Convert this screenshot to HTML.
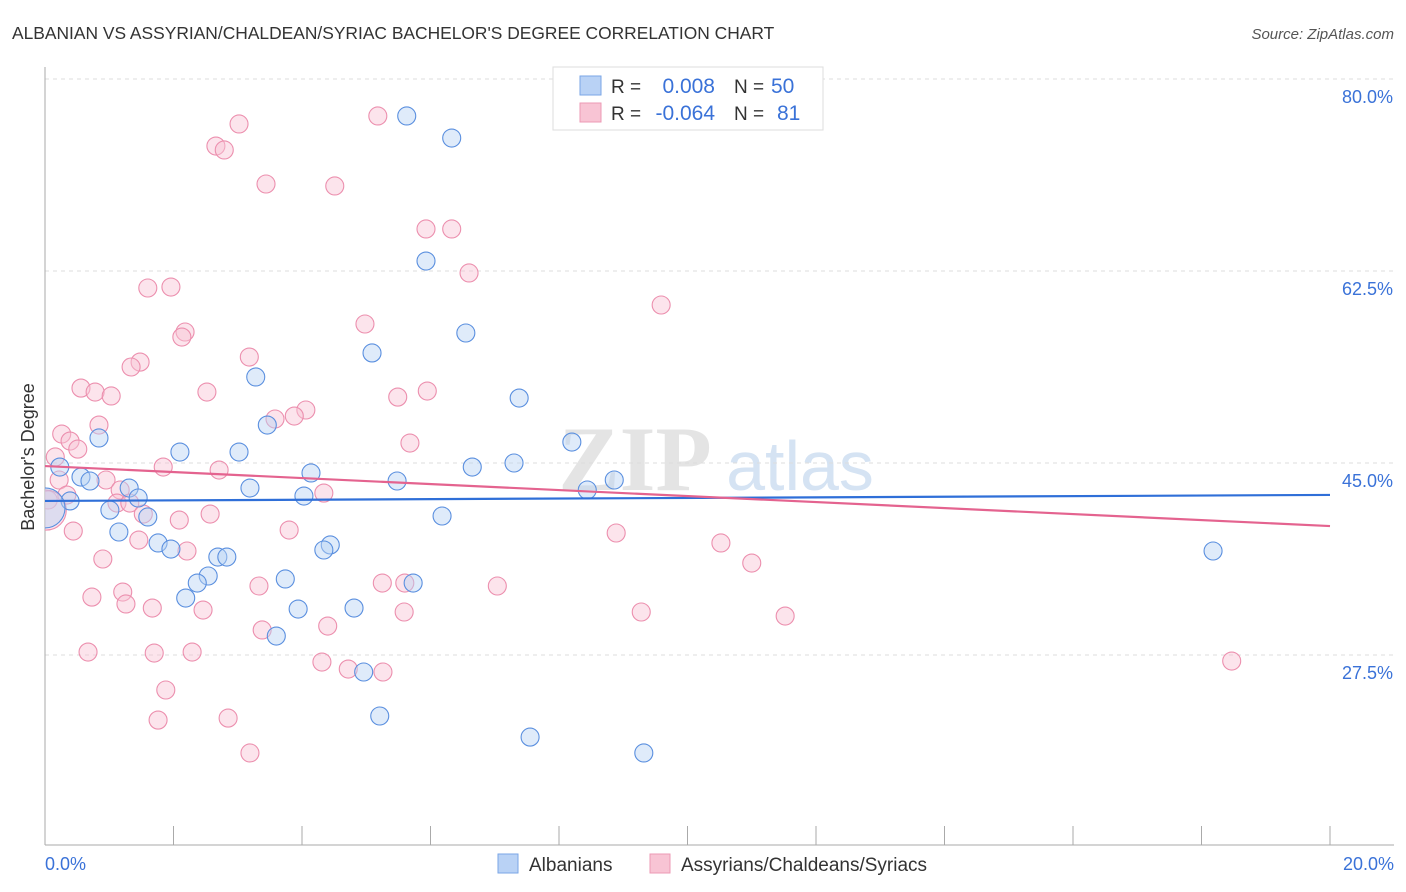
<!DOCTYPE html>
<html><head><meta charset="utf-8">
<style>
body{margin:0;background:#fff;font-family:"Liberation Sans",sans-serif;}
#wrap{position:relative;width:1406px;height:892px;overflow:hidden;}
svg{position:absolute;left:0;top:0;}
</style></head>
<body>
<div id="wrap">
<svg id="chart" width="1406" height="892">
  <defs><clipPath id="plotclip"><rect x="45" y="60" width="1360" height="785"/></clipPath></defs>
  <text x="12" y="39" font-size="17.4" fill="#333">ALBANIAN VS ASSYRIAN/CHALDEAN/SYRIAC BACHELOR'S DEGREE CORRELATION CHART</text>
  <text x="1394" y="39" font-size="15" fill="#555" font-style="italic" text-anchor="end">Source: ZipAtlas.com</text>
  <text transform="translate(34,457) rotate(-90)" font-size="18" fill="#333" text-anchor="middle">Bachelor's Degree</text>
  <g>
    <text x="635" y="490" font-size="92" fill="#e4e4e4" text-anchor="middle" font-family="Liberation Serif, serif" font-weight="bold">ZIP</text>
    <text x="800" y="490" font-size="70" fill="#d5e3f3" text-anchor="middle">atlas</text>
  </g>
  <g id="grid"></g>
  <g id="axes"></g>
  <g id="pts" clip-path="url(#plotclip)"></g>
  <g id="trends"></g>
  <g>
    <rect x="553" y="67" width="270" height="63" fill="#fff" stroke="#ddd"/>
    <rect x="580" y="76" width="21" height="19" fill="#b9d2f5" stroke="#7aa6e6"/>
    <rect x="580" y="103" width="21" height="19" fill="#f8c4d4" stroke="#ec9ab4"/>
    <text x="611" y="93" font-size="19" fill="#333">R =</text>
    <text x="715" y="93" font-size="21" fill="#3a72d8" text-anchor="end">0.008</text>
    <text x="734" y="93" font-size="19" fill="#333">N =</text>
    <text x="771" y="93" font-size="21" fill="#3a72d8">50</text>
    <text x="611" y="120" font-size="19" fill="#333">R =</text>
    <text x="715" y="120" font-size="21" fill="#3a72d8" text-anchor="end">-0.064</text>
    <text x="734" y="120" font-size="19" fill="#333">N =</text>
    <text x="777" y="120" font-size="21" fill="#3a72d8">81</text>
  </g>
  <g>
    <rect x="498" y="854" width="20" height="19" fill="#b9d2f5" stroke="#7aa6e6"/>
    <text x="529" y="871" font-size="19" fill="#333">Albanians</text>
    <rect x="650" y="854" width="20" height="19" fill="#f8c4d4" stroke="#ec9ab4"/>
    <text x="681" y="871" font-size="19" fill="#333">Assyrians/Chaldeans/Syriacs</text>
  </g>
</svg>
</div>
<script>
const yTicks=[80.0,62.5,45.0,27.5];
const yTickLabels=["80.0%","62.5%","45.0%","27.5%"];
const xTickVals=[0,2,4,6,8,10,12,14,16,18,20];
const xEndLabels=["0.0%","20.0%"];
const albX=[5.63,6.33,5.93,6.55,5.09,3.28,7.38,3.46,0.84,2.10,3.02,8.20,0.23,0.56,0.70,6.65,7.30,4.14,5.48,3.19,1.31,1.45,4.03,8.44,8.86,0.39,1.01,1.60,6.18,1.15,1.76,1.96,2.69,2.83,4.44,4.34,2.54,2.37,3.74,5.73,2.19,3.94,4.81,3.60,4.96,5.21,7.55,9.32,18.18,0];
const albY=[76.63,74.62,63.41,56.85,55.03,52.84,50.92,48.46,47.28,46.00,46.00,46.91,44.63,43.72,43.36,44.63,45.00,44.09,43.36,42.72,42.72,41.81,41.99,42.54,43.45,41.54,40.71,40.08,40.17,38.71,37.71,37.16,36.43,36.43,37.53,37.07,34.70,34.06,34.43,34.06,32.69,31.69,31.78,29.23,25.95,21.94,20.02,18.57,36.98,40.90];
const asyX=[5.18,3.02,2.66,2.79,3.44,4.51,5.93,6.33,6.60,1.60,1.96,9.59,4.98,2.18,2.13,3.18,1.48,1.34,0.56,0.78,1.03,2.52,5.95,5.49,4.06,3.88,3.58,0.84,0.26,0.39,0.51,5.68,0.16,1.84,2.71,0.22,0.95,1.17,4.34,0.34,0.05,1.12,1.32,1.53,2.57,2.09,0.02,0.44,1.46,3.80,8.89,10.52,2.21,0.90,11.00,1.21,3.33,5.25,5.60,7.04,0.73,1.26,1.67,2.46,5.59,9.28,11.52,4.40,3.38,0.67,1.70,2.29,4.31,4.72,5.26,18.47,1.88,1.76,2.85,3.19];
const asyY=[76.63,75.90,73.89,73.53,70.43,70.25,66.33,66.33,62.32,60.95,61.04,59.40,57.67,56.94,56.48,54.66,54.20,53.75,51.83,51.47,51.11,51.47,51.56,51.01,49.83,49.28,49.01,48.46,47.64,47.00,46.27,46.82,45.55,44.63,44.36,43.45,43.45,42.54,42.26,42.08,41.63,41.35,41.35,40.35,40.35,39.80,40.71,38.80,37.98,38.89,38.62,37.71,36.98,36.25,35.88,33.24,33.79,34.06,34.06,33.79,32.78,32.15,31.78,31.60,31.42,31.42,31.05,30.14,29.78,27.77,27.68,27.77,26.86,26.22,25.95,26.95,24.31,21.57,21.75,18.57];
const albTrend=[41.54,42.09];
const asyTrend=[44.72,39.25];

const NS="http://www.w3.org/2000/svg";
const X=v=>45+v/20*1285;
const Y=v=>79+(80-v)/17.5*192;
function mk(tag,attrs,parent){const e=document.createElementNS(NS,tag);for(const k in attrs)e.setAttribute(k,attrs[k]);parent.appendChild(e);return e;}
const grid=document.getElementById('grid'),axes=document.getElementById('axes'),pts=document.getElementById('pts'),tr=document.getElementById('trends');
yTicks.forEach((t,i)=>{
  const l=mk('line',{x1:45,x2:1394,y1:Y(t),y2:Y(t),stroke:'#ddd','stroke-dasharray':'4,4'},grid);
  
  
  const tx=mk('text',{x:1393,y:Y(t)+24,'font-size':18,fill:'#3a72d8','text-anchor':'end'},axes);
  tx.textContent=yTickLabels[i];
  
  
});
const ax=mk('line',{x1:45,x2:1394,y1:845,y2:845,stroke:'#aaa'},axes);


const ay=mk('line',{x1:45,x2:45,y1:67,y2:845,stroke:'#aaa'},axes);


xTickVals.forEach(v=>{
  const t=mk('line',{x1:X(v),x2:X(v),y1:826,y2:845,stroke:'#aaa'},axes);
  
  
});
[[0,'start',45],[20,'end',1394]].forEach((p,i)=>{
  const t=mk('text',{x:p[2],y:870,'font-size':18,fill:'#3a72d8','text-anchor':p[1]},axes);
  t.textContent=xEndLabels[i];
  
  
});
function series(xs,ys,fill,stroke,name){
  xs.forEach((x,i)=>{
    const big=(x<0.03);
    const c=mk('circle',{cx:X(x),cy:Y(ys[i]),r:big?20:9,fill:fill,'fill-opacity':0.45,stroke:stroke,'stroke-width':1.1},pts);
    
    
  });
}
series(asyX,asyY,'#f8c4d4','#ec8fae','point-assyrian');
series(albX,albY,'#b9d2f5','#5a8fdf','point-albanian');
const l1=mk('line',{x1:X(0),x2:X(20),y1:Y(albTrend[0]),y2:Y(albTrend[1]),stroke:'#2f6fd8','stroke-width':2.2},tr);


const l2=mk('line',{x1:X(0),x2:X(20),y1:Y(asyTrend[0]),y2:Y(asyTrend[1]),stroke:'#e4638f','stroke-width':2.2},tr);


</script>
</body></html>
